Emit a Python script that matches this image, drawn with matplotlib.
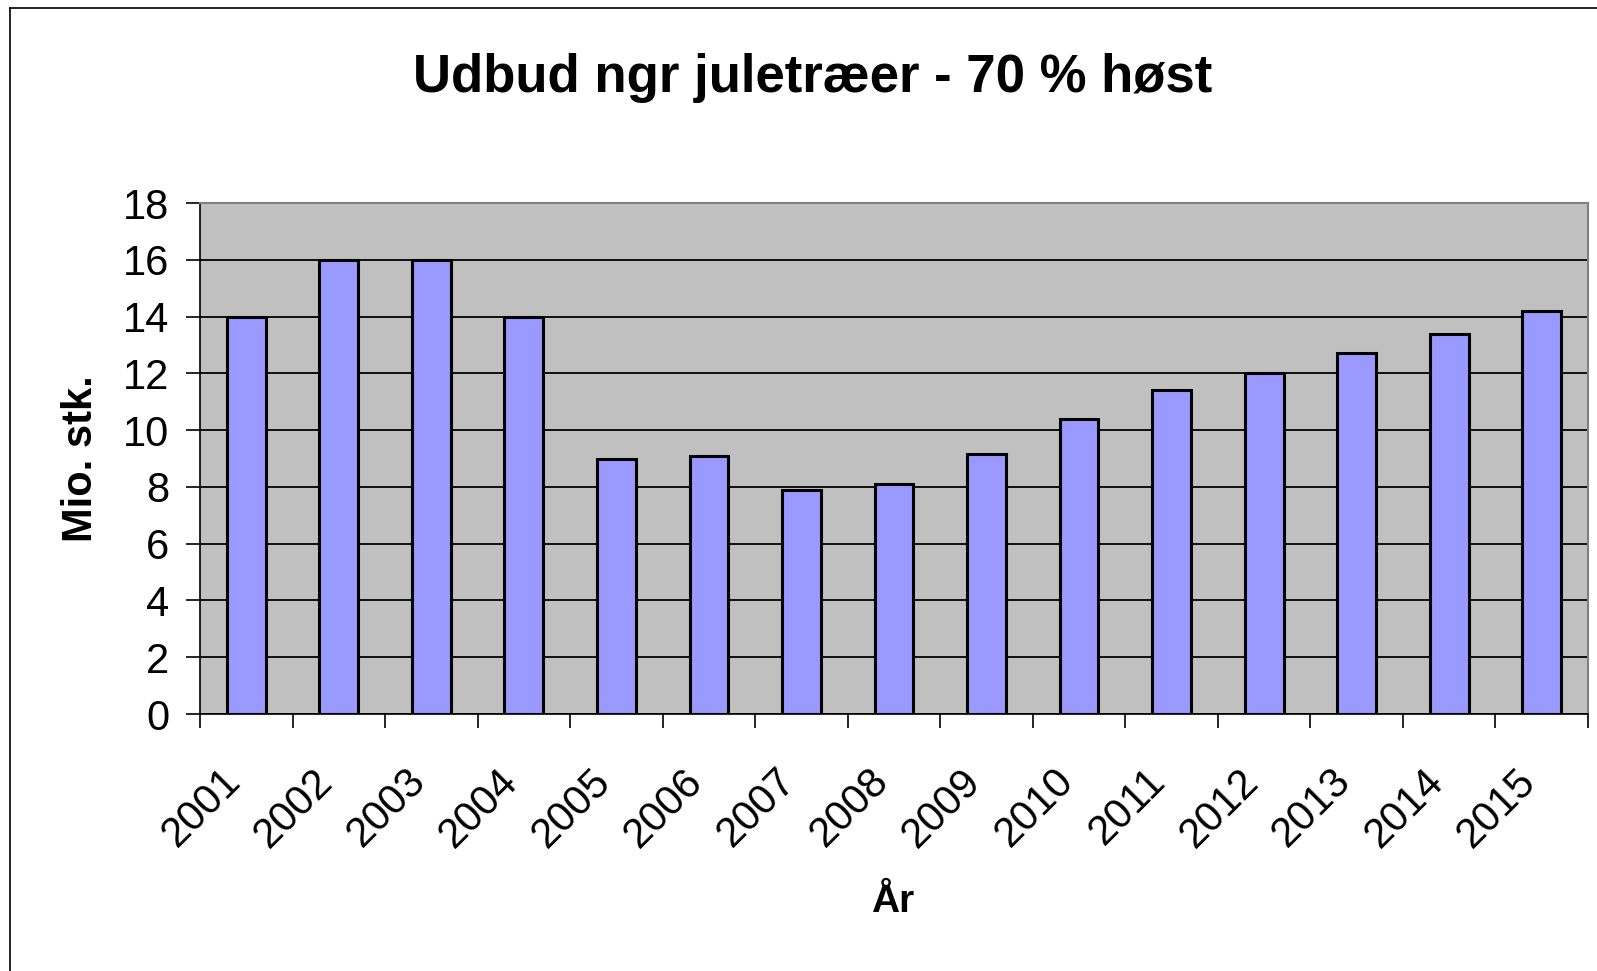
import matplotlib
matplotlib.use("Agg")
import matplotlib.pyplot as plt
import matplotlib.transforms as mtransforms
import numpy as np
from matplotlib.lines import Line2D

years = ["2001", "2002", "2003", "2004", "2005", "2006", "2007", "2008",
         "2009", "2010", "2011", "2012", "2013", "2014", "2015"]
values = [14.0, 16.0, 16.0, 14.0, 9.0, 9.1, 7.9, 8.1,
          9.15, 10.4, 11.4, 12.0, 12.7, 13.4, 14.2]
yticks = [0, 2, 4, 6, 8, 10, 12, 14, 16, 18]

title = "Udbud ngr juletræer - 70 % høst"
xlabel = "År"
ylabel = "Mio. stk."

plt.rcParams['font.family'] = ['Liberation Sans', 'DejaVu Sans']

W, H = 1597, 971
fig = plt.figure(figsize=(W / 100, H / 100), dpi=100)
fig.patch.set_facecolor("white")

L, R, T, B = 200, 1588, 203, 714
ax = fig.add_axes([L / W, 1 - B / H, (R - L) / W, (B - T) / H])
ax.set_facecolor("#C0C0C0")

x = np.arange(len(years))
ax.bar(x, values, width=0.42, color="#9999FF", edgecolor="black",
       linewidth=2.2, zorder=3)

ax.set_xlim(-0.5, len(years) - 0.5)
ax.set_ylim(0, 18)
ax.set_yticks(yticks)
ax.set_yticklabels([str(v) for v in yticks], fontsize=30)
ax.yaxis.grid(True, color="#101010", linewidth=1.4, zorder=1)
ax.set_axisbelow(True)

# category ticks at boundaries, labels drawn at category centres
ax.set_xticks(np.arange(-0.5, len(years)))
ax.set_xticklabels([])
ax.tick_params(axis="x", length=10, width=1.2, color="black", direction="out")
ax.tick_params(axis="y", length=10, width=1.2, color="black", pad=12,
               direction="out")

lab_trans = ax.get_xaxis_transform() + mtransforms.ScaledTranslation(
    -0.26, -0.47, fig.dpi_scale_trans)
for xi, yr in zip(x, years):
    ax.text(xi, 0, yr, transform=lab_trans, fontsize=30, rotation=45,
            ha="right", va="top", rotation_mode="anchor")

for s in ["top", "right"]:
    ax.spines[s].set_color("#808080")
    ax.spines[s].set_linewidth(1.5)
for s in ["left", "bottom"]:
    ax.spines[s].set_color("black")
    ax.spines[s].set_linewidth(1.2)

ax.set_ylabel(ylabel, fontsize=30, fontweight="bold", labelpad=16)
fig.text(((L + R) / 2) / W, 1 - 902 / H, xlabel, fontsize=28,
         fontweight="bold", ha="center", va="center")

fig.text(813 / W, 1 - 78 / H, title, fontsize=38, fontweight="bold",
         ha="center", va="center")

# outer chart border (left and top visible)
fig.add_artist(Line2D([9.5 / W, 9.5 / W], [0, 1 - 8.5 / H],
                      transform=fig.transFigure, color="black", linewidth=1.2))
fig.add_artist(Line2D([9.5 / W, 1], [1 - 8.5 / H, 1 - 8.5 / H],
                      transform=fig.transFigure, color="black", linewidth=1.2))

fig.savefig("out.png", dpi=100)
